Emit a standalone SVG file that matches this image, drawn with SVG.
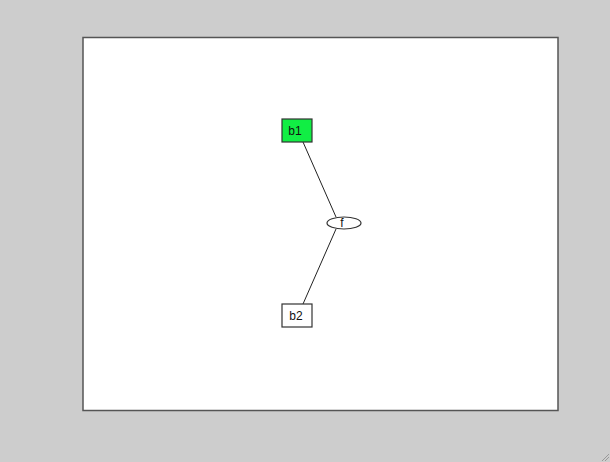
<svg xmlns="http://www.w3.org/2000/svg" width="610" height="462" viewBox="0 0 610 462">
<style>
.box{stroke:#333;stroke-width:1.2}
.lbl{font-family:"Liberation Sans",Arial,sans-serif;font-size:12px;fill:#111;text-anchor:middle}
.edge{stroke:#222;stroke-width:1;fill:none}
</style>
<rect x="0" y="0" width="610" height="462" fill="#cdcdcd"/>
<rect x="83" y="37.5" width="475" height="373" fill="#fff" stroke="#555" stroke-width="1.5"/>
<g id="connectors">
<line class="edge" x1="303" y1="142" x2="336" y2="217"/>
<line class="edge" x1="336" y1="229" x2="303" y2="304"/>
</g>
<g id="b1">
<rect class="box" x="282" y="119" width="30" height="23" fill="#11ee44"/>
<text class="lbl" x="295" y="135">b1</text>
</g>
<g id="f">
<ellipse cx="344" cy="223" rx="17" ry="6" fill="#fff" stroke="#333" stroke-width="1.2"/>
<text class="lbl" x="342" y="227" font-size="10">f</text>
</g>
<g id="b2">
<rect class="box" x="282" y="304" width="30" height="23" fill="#fff"/>
<text class="lbl" x="296" y="320">b2</text>
</g>
<g stroke="#999" stroke-width="1">
<line x1="602" y1="461" x2="609" y2="454"/>
<line x1="605" y1="461" x2="609" y2="457"/>
</g>
</svg>
